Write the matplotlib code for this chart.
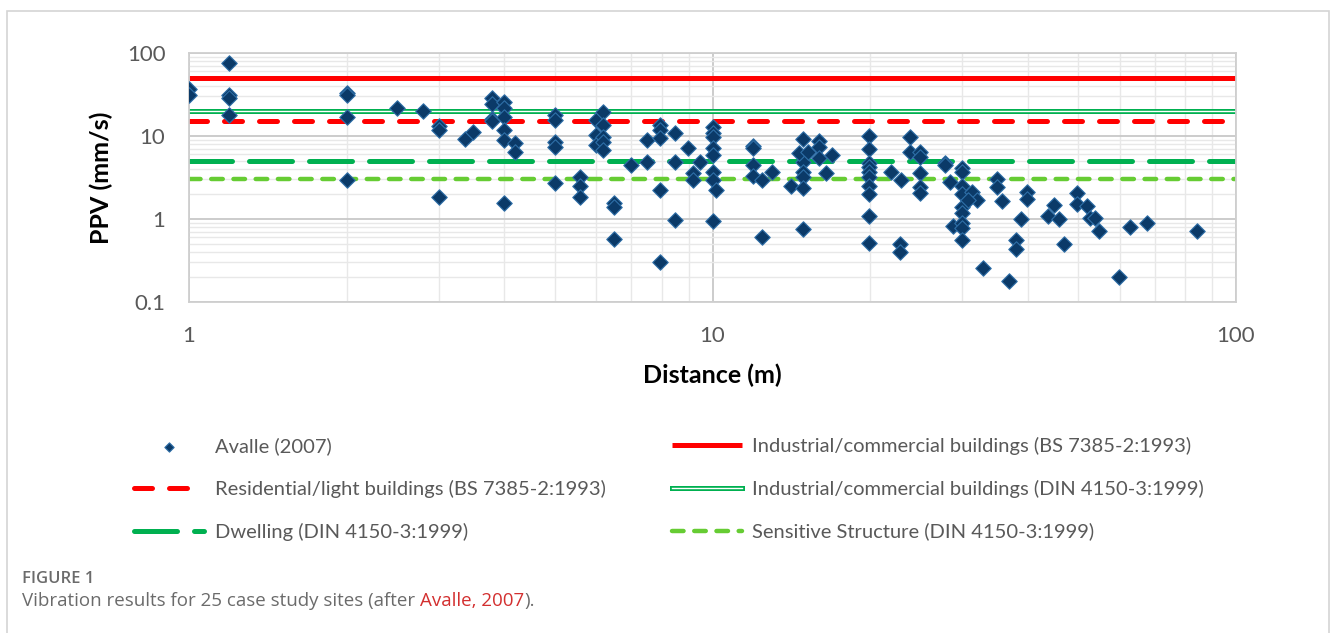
"""Peak particle velocity against distance, with BS 7385 and DIN 4150 limits."""

from __future__ import annotations

import matplotlib

matplotlib.use("Agg")
import matplotlib.patheffects as pe
import matplotlib.pyplot as plt
from matplotlib.patches import Rectangle
from matplotlib.ticker import FixedLocator, LogLocator, NullFormatter

# Avalle (2007) site measurements, grouped by distance
distance_m = [
    1.0, 1.0,
    1.19, 1.19, 1.19, 1.19,
    2.0, 2.0, 2.0, 2.0,
    2.5, 2.8, 3.0, 3.0, 3.0, 3.37, 3.49,
    3.79, 3.79, 3.79, 3.79,
    4.0, 4.0, 4.0, 4.0, 4.0, 4.0,
    4.2, 4.2,
    5.0, 5.0, 5.0, 5.0, 5.0,
    5.58, 5.58, 5.58,
    6.0, 6.0, 6.0,
    6.18, 6.18, 6.18, 6.18, 6.18,
    6.48, 6.48, 6.48,
    6.98, 7.49, 7.49,
    7.94, 7.94, 7.94, 7.94, 7.94,
    8.48, 8.48, 8.48,
    8.99, 9.17, 9.17, 9.46,
    10.0, 10.0, 10.0, 10.0, 10.0, 10.0, 10.0, 10.0,
    10.15,
    11.97, 11.97, 11.97, 11.97,
    12.45, 12.45, 12.97, 14.1,
    14.9, 14.9, 14.9, 14.9, 14.9, 14.9, 14.6, 15.2,
    16.0, 16.0, 16.0, 16.5, 16.9,
    19.9, 19.9, 19.9, 19.9, 19.9, 19.9, 19.9, 19.9, 19.9, 19.9,
    21.9, 22.9, 22.8, 22.8,
    23.8, 23.8,
    24.9, 24.9, 24.9, 24.9, 24.9,
    27.8, 27.8, 28.4, 28.8,
    29.9, 29.9, 29.9, 29.9, 29.9, 29.9, 29.9, 29.9, 29.9,
    31.3, 32.0, 30.8, 32.8,
    34.9, 34.9, 35.8, 36.9,
    38.0, 38.0, 38.8,
    39.8, 39.8,
    43.8, 44.9, 45.9, 46.9,
    49.6, 49.6,
    51.9, 52.5, 53.8, 54.8,
    59.8, 62.7, 67.7, 84.4,
]
ppv_mm_s = [
    37, 31,
    75, 31, 29, 18,
    33, 31, 17, 2.95,
    21.6, 20, 13.2, 11.8, 1.86, 9.1, 11.3,
    29, 24, 16, 15,
    26, 21.6, 17, 11.8, 8.9, 1.57,
    8.3, 6.5,
    18, 15.6, 8.5, 7.4, 2.7,
    3.2, 2.5, 1.82,
    15.6, 10.3, 7.8,
    19.6, 13.5, 9.8, 8.5, 6.8,
    1.55, 1.41, 0.57,
    4.5, 8.9, 4.9,
    13.5, 11.8, 9.4, 2.23, 0.30,
    11, 4.9, 0.97,
    7.1, 3.55, 2.95, 4.9,
    12.9, 10.8, 9.8, 7.1, 5.9, 3.7, 2.95, 0.95,
    2.23,
    7.6, 7.1, 4.47, 3.3,
    2.95, 0.6, 3.7, 2.52,
    9.1, 4.9, 3.7, 3.23, 2.34, 0.75, 6.3, 6.5,
    8.7, 7.4, 5.4, 3.55, 5.9,
    10, 6.9, 4.68, 4.27, 3.7, 3.18, 2.52, 1.98, 1.1, 0.51,
    3.65, 2.95, 0.50, 0.40,
    9.8, 6.5,
    6.5, 5.6, 3.55, 2.45, 2.04,
    4.77, 4.5, 2.81, 0.82,
    4.15, 3.7, 2.52, 2.0, 1.41, 1.17, 0.89, 0.77, 0.56,
    2.13, 1.69, 1.69, 0.26,
    3.0, 2.45, 1.66, 0.18,
    0.56, 0.43, 0.99,
    2.13, 1.73,
    1.09, 1.47, 0.99, 0.50,
    2.07, 1.52,
    1.43, 1.02, 1.02, 0.72,
    0.20, 0.79, 0.90, 0.72,
]

# guideline limits (mm/s)
limit_labels = [
    "Industrial/commercial buildings (BS 7385-2:1993)",
    "Residential/light buildings (BS 7385-2:1993)",
    "Industrial/commercial buildings (DIN 4150-3:1999)",
    "Dwelling (DIN 4150-3:1999)",
    "Sensitive Structure (DIN 4150-3:1999)",
]
limit_values = [50, 15, 20, 5, 3]

x_ticks = [1, 10, 100]
x_tick_labels = ["1", "10", "100"]
y_ticks = [0.1, 1, 10, 100]
y_tick_labels = ["0.1", "1", "10", "100"]

TEXT_GREY = "#595959"
CAPTION_GREY = "#6b6b6b"
CHART_FONT = "Lato"
CAPTION_FONT = ["Open Sans", "DejaVu Sans"]

W, H = 1331, 633


def _fx(px):
    return px / W


def _fy(py):
    return 1 - py / H


def main():
    fig = plt.figure(figsize=(W / 100, H / 100), dpi=100)
    fig.patch.set_facecolor("white")

    # light frame round the whole figure panel
    fig.patches.append(
        Rectangle((_fx(7), -0.05), _fx(1329) - _fx(7), _fy(11) + 0.05,
                  transform=fig.transFigure, fill=False,
                  edgecolor="#d4d4d4", linewidth=1.2)
    )

    ax = fig.add_axes([_fx(189), _fy(302), _fx(1236) - _fx(189), _fy(53) - _fy(302)])
    ax.set_xscale("log")
    ax.set_yscale("log")
    ax.set_xlim(1, 100)
    ax.set_ylim(0.1, 100)

    ax.xaxis.set_major_locator(FixedLocator(x_ticks))
    ax.set_xticklabels(x_tick_labels)
    ax.yaxis.set_major_locator(FixedLocator(y_ticks))
    ax.set_yticklabels(y_tick_labels)
    ax.xaxis.set_minor_locator(LogLocator(base=10, subs=range(2, 10)))
    ax.yaxis.set_minor_locator(LogLocator(base=10, subs=range(2, 10)))
    ax.xaxis.set_minor_formatter(NullFormatter())
    ax.yaxis.set_minor_formatter(NullFormatter())
    ax.tick_params(which="both", length=0)
    ax.tick_params(axis="x", pad=17, labelsize=16, labelcolor=TEXT_GREY)
    ax.tick_params(axis="y", pad=17, labelsize=16, labelcolor=TEXT_GREY)
    for lab in ax.get_xticklabels() + ax.get_yticklabels():
        lab.set_fontfamily(CHART_FONT)

    ax.grid(True, which="major", color="#c8c8c8", linewidth=1.3)
    ax.grid(True, which="minor", color="#e8e8e8", linewidth=1.0)
    ax.set_axisbelow(True)
    for side in ax.spines.values():
        side.set_color("#cfcfcf")
        side.set_linewidth(1.3)

    # limit lines
    lim = dict(zip(limit_labels, limit_values))
    h_ind_bs = ax.axhline(lim[limit_labels[0]], color="#ff0000", linewidth=3.6,
                          solid_capstyle="butt", label=limit_labels[0])
    h_res = ax.axhline(lim[limit_labels[1]], color="#ff0000", linewidth=3.6,
                       dashes=(3.6, 3.4), dash_capstyle="round", label=limit_labels[1])
    h_ind_din = ax.axhline(lim[limit_labels[2]], color="white", linewidth=1.0,
                           label=limit_labels[2],
                           path_effects=[pe.Stroke(linewidth=3.6, foreground="#00b050"),
                                         pe.Normal()])
    h_dwell = ax.axhline(lim[limit_labels[3]], color="#00b050", linewidth=3.6,
                         dashes=(8.6, 3.4), dash_capstyle="round", label=limit_labels[3])
    h_sens = ax.axhline(lim[limit_labels[4]], color="#66cc33", linewidth=3.2,
                        dashes=(2.6, 2.4), dash_capstyle="round", label=limit_labels[4])

    h_pts = ax.scatter(distance_m, ppv_mm_s, marker="D", s=62, color="#0b3a68",
                       edgecolor="#2f6fa8", linewidth=0.8, zorder=5,
                       label="Avalle (2007)")

    ax.set_xlabel("Distance (m)", fontsize=18, fontweight="bold",
                  fontfamily=CHART_FONT, labelpad=13)
    ax.set_ylabel("PPV (mm/s)", fontsize=18, fontweight="bold",
                  fontfamily=CHART_FONT, labelpad=10)

    handles = [h_pts, h_res, h_dwell, h_ind_bs, h_ind_din, h_sens]
    labels = [h.get_label() for h in handles]
    fig.legend(handles, labels, ncol=2, frameon=False,
               loc="upper left", bbox_to_anchor=(_fx(134), _fy(437)),
               borderpad=0, borderaxespad=0,
               handlelength=3.5, handletextpad=0.5, columnspacing=3.3,
               labelspacing=1.23, markerscale=0.6,
               prop={"family": CHART_FONT, "size": 14.5},
               labelcolor=TEXT_GREY)

    # caption
    fig.text(_fx(22), _fy(583), "FIGURE 1", fontsize=12, fontweight="semibold",
             color=CAPTION_GREY, fontfamily=CAPTION_FONT, va="baseline")
    t1 = fig.text(_fx(22), _fy(606), "Vibration results for 25 case study sites (after ",
                  fontsize=13.5, color=CAPTION_GREY, fontfamily=CAPTION_FONT,
                  va="baseline")
    t2 = fig.text(0, 0, "Avalle, 2007", fontsize=13.5, color="#d32f2f",
                  fontfamily=CAPTION_FONT, va="baseline")
    t3 = fig.text(0, 0, ").", fontsize=13.5, color=CAPTION_GREY,
                  fontfamily=CAPTION_FONT, va="baseline")
    fig.canvas.draw()
    r = fig.canvas.get_renderer()
    x_next = t1.get_window_extent(r).x1 / W
    t2.set_position((x_next, _fy(606)))
    x_next = t2.get_window_extent(r).x1 / W
    t3.set_position((x_next, _fy(606)))

    fig.savefig("out.png", dpi=100, facecolor="white")
    plt.close(fig)


if __name__ == "__main__":
    main()
